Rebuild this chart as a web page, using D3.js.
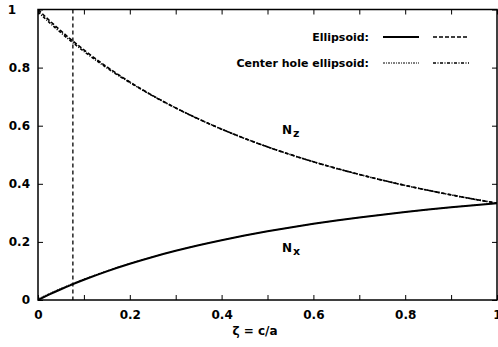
<!DOCTYPE html>
<html>
<head>
<meta charset="utf-8">
<script src="https://cdn.jsdelivr.net/npm/d3@7"></script>
<style>
  html, body { margin: 0; padding: 0; background: #fff; }
  svg { display: block; }
  text { font-family: "DejaVu Sans", sans-serif; font-weight: bold; fill: #000; }
</style>
</head>
<body>
<svg id="chart" width="498" height="347"></svg>
<script>
// Aspect ratio zeta = c/a
const zeta = [0, 0.025, 0.05, 0.075, 0.1, 0.15, 0.2, 0.25, 0.3, 0.35, 0.4, 0.45,
              0.5, 0.55, 0.6, 0.65, 0.7, 0.75, 0.8, 0.85, 0.9, 0.95, 1.0];

// Demagnetizing factors, solid ellipsoid
const nzEllipsoid = [1.000, 0.9619, 0.9262, 0.8925, 0.8608, 0.8026, 0.7505, 0.7036, 0.6614,
                     0.6230, 0.5882, 0.5563, 0.5272, 0.5005, 0.4758, 0.4531, 0.4321, 0.4126,
                     0.3944, 0.3776, 0.3618, 0.3471, 0.3333];
const nxEllipsoid = [0.000, 0.0191, 0.0369, 0.0538, 0.0696, 0.0987, 0.1248, 0.1482, 0.1693,
                     0.1885, 0.2059, 0.2219, 0.2364, 0.2498, 0.2621, 0.2735, 0.2840, 0.2937,
                     0.3028, 0.3112, 0.3191, 0.3265, 0.3333];

// Demagnetizing factors, ellipsoid with a center hole
const nzCenterHole = [0.992, 0.955, 0.920, 0.887, 0.856, 0.799, 0.7485, 0.7026, 0.6608,
                      0.6227, 0.5880, 0.5562, 0.5271, 0.5004, 0.4758, 0.4531, 0.4321, 0.4126,
                      0.3944, 0.3776, 0.3618, 0.3471, 0.3333];
const nxCenterHole = [0.004, 0.0225, 0.040, 0.0565, 0.072, 0.1005, 0.1258, 0.1487, 0.1696,
                      0.1887, 0.2060, 0.2219, 0.2364, 0.2498, 0.2621, 0.2735, 0.2840, 0.2937,
                      0.3028, 0.3112, 0.3191, 0.3265, 0.3333];

// Marked aspect ratio (vertical reference line)
const markedZeta = 0.076;

const xTicks = [0, 0.2, 0.4, 0.6, 0.8, 1];
const xMinorTicks = [0.1, 0.3, 0.5, 0.7, 0.9];
const yTicks = [0, 0.2, 0.4, 0.6, 0.8, 1];

const legendRows = [
  { label: "Ellipsoid:", styles: ["solid", "dashed"] },
  { label: "Center hole ellipsoid:", styles: ["fineDot", "dashDot"] }
];

const lineStyles = {
  solid:   { width: 2.0, dash: null },
  dashed:  { width: 1.6, dash: "4,2" },
  fineDot: { width: 1.0, dash: "2,1,1,1" },
  dashDot: { width: 1.6, dash: "3,1.5,1,1.5" }
};

const svg = d3.select("#chart");
const plotLeft = 38, plotRight = 497, plotTop = 9.5, plotBottom = 300;

const x = d3.scaleLinear().domain([0, 1]).range([plotLeft, plotRight]);
const y = d3.scaleLinear().domain([0, 1]).range([plotBottom, plotTop]);

svg.append("defs").append("clipPath").attr("id", "plotClip")
  .append("rect").attr("x", plotLeft).attr("y", plotTop)
  .attr("width", plotRight - plotLeft).attr("height", plotBottom - plotTop);

// Axes with inward ticks
const tickLen = 5;
const gx = svg.append("g").attr("transform", `translate(0,${plotBottom})`)
  .call(d3.axisBottom(x).tickValues(xTicks).tickSize(-tickLen).tickPadding(10)
        .tickFormat(d => d3.format("~g")(d)));
gx.selectAll(".tick text").style("font-size", "12px").attr("dy", "0.71em");

const gxMinor = svg.append("g").attr("transform", `translate(0,${plotBottom})`)
  .call(d3.axisBottom(x).tickValues(xMinorTicks).tickSize(-tickLen).tickFormat(""));

const gxTop = svg.append("g").attr("transform", `translate(0,${plotTop})`)
  .call(d3.axisTop(x).tickValues(xTicks.concat(xMinorTicks)).tickSize(-tickLen).tickFormat(""));

const gy = svg.append("g").attr("transform", `translate(${plotLeft},0)`)
  .call(d3.axisLeft(y).tickValues(yTicks).tickSize(-tickLen).tickPadding(8)
        .tickFormat(d => d3.format("~g")(d)));
gy.selectAll(".tick text").style("font-size", "12px");
gy.selectAll(".tick").filter(d => d === 1).select("text").attr("x", -22);

const gyRight = svg.append("g").attr("transform", `translate(${plotRight},0)`)
  .call(d3.axisRight(y).tickValues(yTicks).tickSize(-tickLen).tickFormat(""));

[gx, gxMinor, gxTop, gy, gyRight].forEach(g => {
  g.select(".domain").remove();
  g.selectAll(".tick line").attr("stroke", "#000").attr("stroke-width", 1);
});

// Frame
svg.append("rect").attr("x", plotLeft).attr("y", plotTop)
  .attr("width", plotRight - plotLeft).attr("height", plotBottom - plotTop)
  .attr("fill", "none").attr("stroke", "#000").attr("stroke-width", 1.5);

const plot = svg.append("g").attr("clip-path", "url(#plotClip)");

// Vertical reference line
plot.append("line")
  .attr("x1", x(markedZeta)).attr("x2", x(markedZeta))
  .attr("y1", y(1)).attr("y2", y(0))
  .attr("stroke", "#000").attr("stroke-width", 1.3).attr("stroke-dasharray", "4,3");

const line = d3.line().x(d => x(d[0])).y(d => y(d[1])).curve(d3.curveMonotoneX);

function drawSeries(values, styleKey) {
  const s = lineStyles[styleKey];
  plot.append("path")
    .datum(zeta.map((z, i) => [z, values[i]]))
    .attr("d", line)
    .attr("fill", "none").attr("stroke", "#000")
    .attr("stroke-width", s.width)
    .attr("stroke-dasharray", s.dash);
}

drawSeries(nzCenterHole, "dashDot");
drawSeries(nxCenterHole, "fineDot");
drawSeries(nzEllipsoid, "dashed");
drawSeries(nxEllipsoid, "solid");

// Legend
const legend = svg.append("g");
legendRows.forEach((row, i) => {
  const ly = 37 + i * 26;
  legend.append("text").attr("x", 369).attr("y", ly).attr("dy", "0.35em")
    .attr("text-anchor", "end").style("font-size", "11px").text(row.label);
  row.styles.forEach((key, j) => {
    const s = lineStyles[key];
    const x0 = 383 + j * 50;
    legend.append("line")
      .attr("x1", x0).attr("x2", x0 + 36).attr("y1", ly).attr("y2", ly)
      .attr("stroke", "#000").attr("stroke-width", s.width)
      .attr("stroke-dasharray", s.dash);
  });
});

// Curve labels
function subLabel(px, py, main, sub) {
  const t = svg.append("text").attr("x", px).attr("y", py).style("font-size", "12px");
  t.append("tspan").text(main);
  t.append("tspan").attr("dx", 1).attr("dy", 3).style("font-size", "11px").text(sub);
}
subLabel(282, 134, "N", "z");
subLabel(282, 252, "N", "x");

// Axis title
svg.append("text").attr("x", 255).attr("y", 335).attr("text-anchor", "middle")
  .style("font-size", "12px").text("ζ = c/a");
</script>
</body>
</html>
